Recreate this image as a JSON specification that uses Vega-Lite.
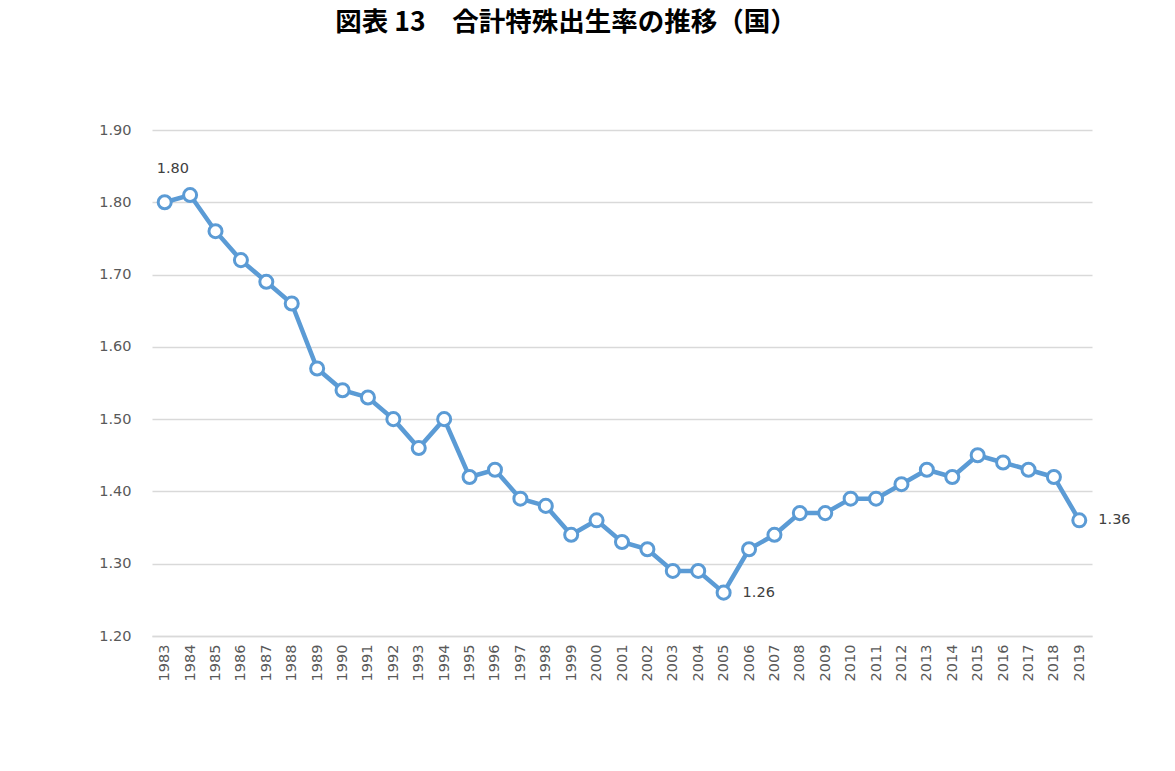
{
  "$schema": "https://vega.github.io/schema/vega-lite/v6.json",
  "width": 940,
  "height": 506,
  "autosize": {"type": "none"},
  "padding": {"left": 152, "top": 130, "right": 83, "bottom": 135},
  "background": "white",
  "title": {
    "text": "図表 13　合計特殊出生率の推移（国）",
    "font": "Noto Sans CJK JP",
    "fontSize": 26.5,
    "fontWeight": "bold",
    "color": "#000000",
    "anchor": "middle",
    "offset": 86,
    "dx": -56
  },
  "config": {
    "view": {"stroke": null},
    "axis": {
      "labelFont": "DejaVu Sans",
      "labelColor": "#595959",
      "gridColor": "#D9D9D9",
      "gridWidth": 1.3,
      "ticks": false,
      "domain": false,
      "title": null
    }
  },
  "data": {
    "values": [
      {"year": "1983", "rate": 1.80, "label": "1.80"},
      {"year": "1984", "rate": 1.81},
      {"year": "1985", "rate": 1.76},
      {"year": "1986", "rate": 1.72},
      {"year": "1987", "rate": 1.69},
      {"year": "1988", "rate": 1.66},
      {"year": "1989", "rate": 1.57},
      {"year": "1990", "rate": 1.54},
      {"year": "1991", "rate": 1.53},
      {"year": "1992", "rate": 1.50},
      {"year": "1993", "rate": 1.46},
      {"year": "1994", "rate": 1.50},
      {"year": "1995", "rate": 1.42},
      {"year": "1996", "rate": 1.43},
      {"year": "1997", "rate": 1.39},
      {"year": "1998", "rate": 1.38},
      {"year": "1999", "rate": 1.34},
      {"year": "2000", "rate": 1.36},
      {"year": "2001", "rate": 1.33},
      {"year": "2002", "rate": 1.32},
      {"year": "2003", "rate": 1.29},
      {"year": "2004", "rate": 1.29},
      {"year": "2005", "rate": 1.26, "label": "1.26"},
      {"year": "2006", "rate": 1.32},
      {"year": "2007", "rate": 1.34},
      {"year": "2008", "rate": 1.37},
      {"year": "2009", "rate": 1.37},
      {"year": "2010", "rate": 1.39},
      {"year": "2011", "rate": 1.39},
      {"year": "2012", "rate": 1.41},
      {"year": "2013", "rate": 1.43},
      {"year": "2014", "rate": 1.42},
      {"year": "2015", "rate": 1.45},
      {"year": "2016", "rate": 1.44},
      {"year": "2017", "rate": 1.43},
      {"year": "2018", "rate": 1.42},
      {"year": "2019", "rate": 1.36, "label": "1.36"}
    ]
  },
  "encoding": {
    "x": {
      "field": "year",
      "type": "ordinal",
      "scale": {"type": "point", "padding": 0.5},
      "axis": {
        "labelAngle": -90,
        "labelFontSize": 14.5,
        "labelPadding": 8,
        "grid": false,
        "domain": true,
        "domainColor": "#D9D9D9",
        "domainWidth": 1.3
      }
    },
    "y": {
      "field": "rate",
      "type": "quantitative",
      "scale": {"domain": [1.2, 1.9], "zero": false, "nice": false},
      "axis": {
        "values": [1.2, 1.3, 1.4, 1.5, 1.6, 1.7, 1.8, 1.9],
        "format": ".2f",
        "labelFontSize": 14.5,
        "labelPadding": 21
      }
    }
  },
  "layer": [
    {
      "mark": {"type": "line", "color": "#5B9BD5", "strokeWidth": 4.5}
    },
    {
      "mark": {
        "type": "point",
        "shape": "circle",
        "filled": true,
        "fill": "white",
        "stroke": "#5B9BD5",
        "strokeWidth": 3,
        "size": 170,
        "opacity": 1
      }
    },
    {
      "transform": [{"filter": "datum.year == '1983'"}],
      "mark": {"type": "text", "font": "DejaVu Sans", "fontSize": 14.5, "color": "#404040", "align": "left", "baseline": "middle", "dx": -8, "dy": -33},
      "encoding": {"text": {"field": "label"}}
    },
    {
      "transform": [{"filter": "datum.year == '2005' || datum.year == '2019'"}],
      "mark": {"type": "text", "font": "DejaVu Sans", "fontSize": 14.5, "color": "#404040", "align": "left", "baseline": "middle", "dx": 19, "dy": 0},
      "encoding": {"text": {"field": "label"}}
    }
  ]
}
